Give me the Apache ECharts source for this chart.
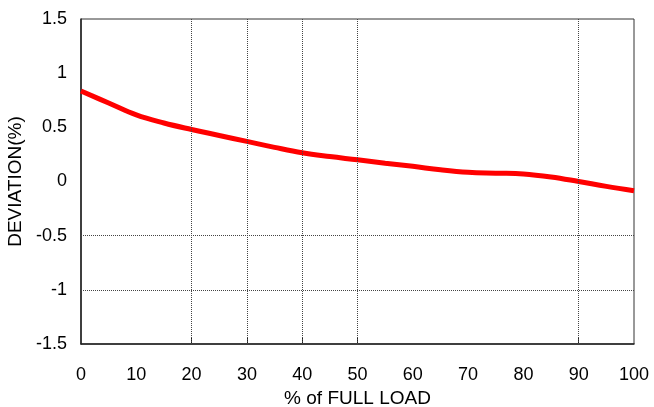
<!DOCTYPE html>
<html>
<head>
<meta charset="utf-8">
<script src="https://cdn.jsdelivr.net/npm/echarts@6/dist/echarts.min.js"></script>
<style>
  html, body { margin: 0; padding: 0; background: #fff; }
  #chart { width: 654px; height: 407px; }
</style>
</head>
<body>
<div id="chart"></div>
<script>
// % of full load and deviation
const loadPct = [0, 5, 10, 15, 20, 25, 30, 35, 40, 45, 50, 55, 60, 65, 70, 75, 80, 85, 90, 95, 100];
const deviation = [0.835, 0.725, 0.615, 0.54, 0.48, 0.425, 0.37, 0.315, 0.265, 0.23, 0.2, 0.168, 0.14, 0.108, 0.085, 0.077, 0.07, 0.042, 0.0, -0.045, -0.085];
// only some grid lines are drawn in the original
const gridX = [20, 30, 40, 50, 90];
const gridY = [-0.5, -1];

const chart = echarts.init(document.getElementById("chart"));
const txt = { color: "#000", fontFamily: "Liberation Sans, Arial", fontSize: 18 };
const nameTxt = { color: "#000", fontFamily: "Liberation Sans, Arial", fontSize: 19 };
const dotted = { color: "#444", type: "dotted", width: 1 };

const markData = gridX.map(v => ({ xAxis: v })).concat(gridY.map(v => ({ yAxis: v })));

chart.setOption({
  animation: false,
  backgroundColor: "#fff",
  grid: {
    left: 81, right: 20, top: 19, bottom: 63,
    outerBoundsMode: "none", containLabel: false,
    show: true, borderColor: "#333", borderWidth: 1
  },
  xAxis: {
    type: "value", min: 0, max: 100, interval: 10,
    name: "% of FULL LOAD", nameLocation: "middle", nameGap: 43,
    nameTextStyle: nameTxt,
    axisLine: { onZero: false, lineStyle: { color: "#222", width: 1.5 } },
    axisTick: { show: true, inside: true, length: 7, customValues: gridX, lineStyle: { color: "#222" } },
    axisLabel: Object.assign({ margin: 22 }, txt),
    splitLine: { show: false }
  },
  yAxis: {
    type: "value", min: -1.5, max: 1.5, interval: 0.5,
    name: "DEVIATION(%)", nameLocation: "middle", nameGap: 55,
    nameTextStyle: nameTxt,
    axisLine: { show: true, onZero: false, lineStyle: { color: "#222", width: 1.5 } },
    axisTick: { show: false },
    axisLabel: Object.assign({ margin: 14 }, txt),
    splitLine: { show: false }
  },
  series: [{
    type: "line",
    data: loadPct.map((x, i) => [x, deviation[i]]),
    smooth: 0.4,
    showSymbol: false,
    lineStyle: { color: "#ff0000", width: 5 },
    markLine: {
      silent: true, symbol: "none", label: { show: false },
      lineStyle: dotted,
      data: markData
    },
    z: 3
  }]
});
</script>
</body>
</html>
